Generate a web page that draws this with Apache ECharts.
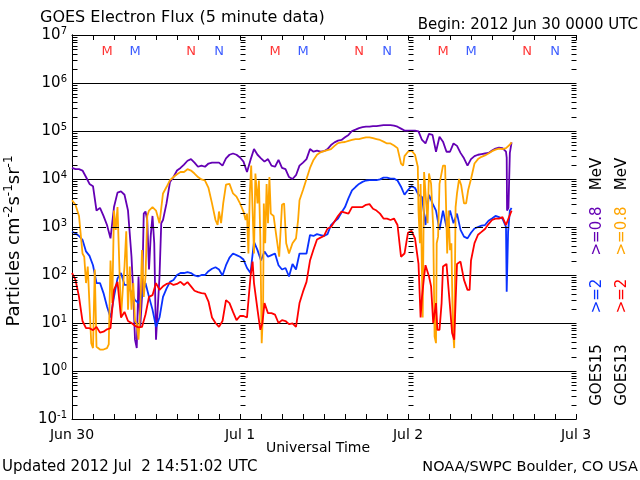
<!DOCTYPE html>
<html><head><meta charset="utf-8">
<script src="https://cdn.jsdelivr.net/npm/echarts@6/dist/echarts.min.js"></script>
<style>html,body{margin:0;padding:0;background:#fff}#c{width:640px;height:480px}</style>
</head><body><div id="c"></div>
<script>
// x in hours since 2012 Jun 30 00:00 UTC
const xTickLabels = ['Jun 30', 'Jul 1', 'Jul 2', 'Jul 3'];
const yTickExponents = [-1, 0, 1, 2, 3, 4, 5, 6, 7];

// GOES15 >=0.8 MeV
const goes15E08 = [[0,1.7e4],[0.5,1.6e4],[1,1.6e4],[1.5,1.5e4],[2,1.1e4],[2.5,7900],[3,7100],[3.5,2200],[4,2500],[4.5,1700],[5,1100],[5.5,580],[6,2600],[6.5,5200],[7,5500],[7.5,4700],[8,2200],[8.5,240],
[8.75,42],[9,4.5],[9.25,3.0],[9.5,93],[9.75,8.3],[10,35],[10.25,1900],[10.5,2100],[10.75,1400],[11,130],[11.25,660],[11.5,1700],[11.75,460],[12,4.5],[12.25,4.1],[12.5,93],[12.75,1200],[13,1400],
[13.5,3100],[14,8700],[14.5,1.1e4],[15,1.5e4],[15.5,1.7e4],[16,2.0e4],[16.5,2.4e4],[17,2.6e4],[17.5,2.2e4],[18,1.8e4],[18.5,1.9e4],[19,1.8e4],[19.5,2.1e4],[20,2.2e4],[20.5,2.2e4],[21,2.2e4],[21.5,1.9e4],[22,2.7e4],[22.5,3.2e4],[23,3.4e4],[23.5,3.2e4],[24,2.8e4],[24.5,2.3e4],[25,1.4e4],[25.5,2.5e4],[26,4.2e4],[26.5,3.2e4],[27,2.7e4],[27.5,2.3e4],[28,2.6e4],[28.5,1.9e4],[29,1.8e4],[29.5,2.5e4],[30,1.7e4],[30.5,1.6e4],[31,1.1e4],[31.5,1.0e4],[32,1.2e4],
[32.5,1.9e4],[33,2.2e4],[33.5,2.6e4],[34,4.2e4],[34.5,3.7e4],[35,3.9e4],[35.5,3.7e4],[36,3.8e4],[36.5,4.2e4],[37,5.1e4],[37.5,5.8e4],[38,6.3e4],[38.5,6.5e4],[39,7.4e4],[39.5,8.3e4],[40,1.0e5],[40.5,1.07e5],[41,1.15e5],[41.5,1.2e5],[42,1.23e5],[42.5,1.23e5],[43,1.26e5],[43.5,1.26e5],[44,1.29e5],[44.5,1.32e5],[45,1.32e5],[45.5,1.32e5],[46,1.29e5],[46.5,1.23e5],[47,1.12e5],[47.5,1.02e5],[48,1.02e5],
[48.5,1.02e5],[49,1.02e5],[49.5,9.8e4],[50,6.5e4],[50.5,5.5e4],[51,8.7e4],[51.5,8.3e4],[52,3.7e4],[52.5,7.6e4],[53,6.0e4],[53.5,3.7e4],[54,3.7e4],[54.5,5.5e4],[55,4.9e4],[55.5,3.5e4],[56,2.7e4],[56.5,1.9e4],[57,2.6e4],[57.5,3.0e4],[58,3.2e4],[58.5,3.3e4],[59,3.4e4],[59.5,3.5e4],[60,3.9e4],[60.5,4.3e4],[61,4.5e4],[61.5,4.4e4],[62,3.7e4],[62.1,2.8e4],[62.15,2200],[62.35,2500],[62.55,3.5e4],[62.8,5.8e4]];

// GOES15 >=2 MeV
const goes15E2 = [[0,790],[0.5,740],[1,650],[1.5,540],[2,310],[2.5,250],[3,160],[3.5,68],[4,68],[4.5,42],[5,22],[5.5,13],[6,35],[6.5,85],[7,110],[7.5,62],[8,62],[8.5,42],[9,30],[9.5,26],[10,35],[10.5,68],[11,35],[11.5,19],[12,8.3],[12.5,13],[13,35],[13.5,52],[14,72],[14.5,79],[15,100],[15.5,110],
[16,110],[16.5,115],[17,110],[17.5,98],[18,93],[18.5,100],[19,100],[19.5,120],[20,135],[20.5,145],[21,130],[21.5,98],[22,160],[22.5,230],[23,280],[23.5,260],[24,240],[24.5,210],[25,140],[25.5,110],[26,490],[26.5,330],[27,200],[27.5,310],[28,240],[28.5,260],[29,280],[29.5,160],[30,130],[30.5,140],[31,93],[31.5,170],[32,130],
[32.5,280],[33,280],[33.5,280],[34,680],[34.5,650],[35,710],[35.5,680],[36,650],[36.5,710],[37,1100],[37.5,1300],[38,1500],[38.5,2000],[39,2600],[39.5,4000],[40,5800],[40.5,6800],[41,7900],[41.5,8700],[42,9300],[42.5,9500],[43,9500],[43.5,9500],[44,9800],[44.5,1.07e4],[45,1.07e4],[45.5,1.02e4],[46,1.02e4],[46.5,9300],[47,6900],[47.5,4700],[48,5900],
[48.5,7100],[49,6500],[49.5,4700],[50,4200],[50.5,1100],[51,4700],[51.5,3100],[52,2200],[52.5,870],[53,2200],[53.5,1000],[54,2200],[54.5,1200],[55,1900],[55.5,870],[56,630],[56.5,580],[57,760],[57.5,930],[58,1000],[58.5,1070],[59,1100],[59.5,1350],[60,1500],[60.5,1700],[61,1600],[61.5,1500],[62,1000],[62.1,45],[62.3,790],[62.55,2200],[62.8,2500]];

// GOES13 >=0.8 MeV
const goes13E08 = [[0,3600],[0.5,2900],[1,1700],[1.5,280],[1.75,240],[2,68],[2.25,150],[2.5,150],[2.75,3.8],[3,3.0],[3.25,130],[3.5,3.2],[4,2.8],[4.5,2.8],[5,3.0],[5.25,3.6],[5.5,200],[5.75,26],[6,2200],[6.25,870],[6.5,2600],[6.75,180],[7,13],[7.25,49],[7.5,150],[7.75,810],[8,19],[8.25,150],[8.5,19],[8.75,68],[9,11],[9.25,9.8],[9.5,4.5],[9.75,19],[10,330],[10.25,35],[10.5,93],[10.75,1700],[11,2200],[11.5,2600],[12,2200],[12.5,1200],[13,5000],[13.5,6800],[14,9500],[14.5,1.1e4],[15,1.26e4],[15.5,1.4e4],[16,1.4e4],
[16.5,1.6e4],[17,1.5e4],[17.5,1.3e4],[18,1.1e4],[18.5,9800],[19,9300],[19.5,6500],[20,3100],[20.5,1400],[20.8,1100],[21,2100],[21.3,1200],[21.6,3100],[22,7600],[22.5,7900],[23,5000],[23.5,4300],[24,3100],[24.5,2100],[24.8,1400],[25,1900],[25.2,280],[25.4,5000],[25.6,1.9e4],[25.8,2200],[26,280],[26.2,1.3e4],[26.5,3100],[26.7,9300],[26.9,630],[27.1,3.8],[27.3,19],[27.4,3100],[27.6,460],[27.8,7900],[28,1200],[28.2,1.1e4],[28.4,1900],[28.8,1700],[29.2,630],[29.6,240],[30,2900],[30.3,3100],[30.6,460],[31,280],[31.5,460],[32,580],
[32.3,1400],[32.5,3600],[33,5900],[33.5,1.0e4],[34,1.7e4],[34.5,2.5e4],[35,3.2e4],[35.5,3.6e4],[36,3.8e4],[36.5,4.0e4],[37,4.2e4],[37.5,4.9e4],[38,5.6e4],[38.5,5.8e4],[39,5.9e4],[39.5,6.2e4],[40,6.5e4],[40.5,6.8e4],[41,6.8e4],[41.5,7.1e4],[42,7.4e4],[42.5,7.4e4],[43,7.1e4],[43.5,6.8e4],[44,6.5e4],[44.5,6.0e4],[45,5.5e4],[45.5,5.5e4],[46,5.0e4],[46.5,4.4e4],[47,2.1e4],[47.3,1.9e4],[47.5,3.0e4],[48,3.7e4],
[48.5,3.9e4],[49,3.2e4],[49.4,1.8e4],[49.5,2200],[49.7,460],[49.8,7900],[50,93],[50.1,13],[50.3,1.4e4],[50.6,3100],[50.8,1200],[51,1.3e4],[51.3,7900],[51.6,1000],[51.8,5.2],[52,3.8],[52.1,460],[52.3,630],[52.5,7900],[53,1.9e4],[53.3,1.9e4],[53.6,280],[53.8,2200],[54,330],[54.2,460],[54.4,8.3],[54.6,3.0],[54.8,2600],[55,5000],[55.3,1.0e4],[55.6,7400],[56,3100],[56.3,3100],[56.6,5900],[57,1.0e4],[57.5,2.1e4],[58,2.6e4],[58.5,2.9e4],[59,3.1e4],[59.5,3.4e4],[60,3.8e4],[60.5,4.1e4],[61,4.3e4],[61.5,4.2e4],[62,4.4e4],[62.5,5.1e4],[62.8,5.8e4]];

// GOES13 >=2 MeV
const goes13E2 = [[0,110],[0.5,79],[1,35],[1.5,11],[2,7.8],[2.5,7.8],[3,7.1],[3.5,8.3],[4,6.3],[4.5,6.6],[5,7.4],[5.5,7.8],[6,49],[6.5,72],[7,13],[7.5,17],[8,11],[8.5,10],[9,8.7],[9.5,8.1],[10,8.3],[10.5,15],[11,35],[11.5,38],[12,68],[12.5,49],[13,58],[13.5,65],[14,68],[14.5,62],[15,65],[15.5,72],[16,62],
[16.5,71],[17,58],[17.5,47],[18,44],[18.5,42],[19,41],[19.5,28],[20,13],[20.5,10],[21,8.3],[21.5,11],[22,30],[22.5,26],[23,17],[23.5,11.5],[24,14],[24.5,14],[25,13],[25.5,93],[25.8,190],[26,68],[26.5,19],[26.9,7.2],[27.2,10],[27.5,26],[28,16],[28.5,16],[29,15],[29.5,10],[30,11.5],[30.5,11],[31,9.5],[31.5,9.8],[32,8.3],
[32.5,26],[33,45],[33.5,72],[34,200],[34.5,340],[35,550],[35.5,600],[36,650],[36.5,930],[37,1000],[37.5,1300],[38,1700],[38.5,2100],[39,2000],[39.5,1900],[40,2600],[40.5,2600],[41,2600],[41.5,2600],[42,2900],[42.5,3000],[43,2400],[43.5,2200],[44,1900],[44.5,1500],[45,1500],[45.5,1400],[46,1500],[46.5,1100],[47,240],[47.5,280],[48,760],
[48.5,830],[49,580],[49.5,170],[49.8,13],[50,35],[50.3,93],[50.5,160],[51,93],[51.3,58],[51.6,10],[52,26],[52.2,7.2],[52.5,7.2],[52.8,26],[53,150],[53.5,170],[54,22],[54.3,6.2],[54.6,4.5],[55,170],[55.5,190],[56,79],[56.5,49],[56.8,49],[57,200],[57.5,460],[58,690],[58.5,790],[59,910],[59.5,1150],[60,1400],[60.5,1500],[61,1500],[61.5,1600],[62,1100],[62.2,1200],[62.5,1700],[62.8,2200]];

// local midnight (M) / noon (N) of each satellite, hours
const goes13MidnightHours = [5, 29, 53];
const goes15MidnightHours = [9, 33, 57];
const goes13NoonHours = [17, 41, 65];
const goes15NoonHours = [21, 45, 69];

const FONT = 'DejaVu Sans';
const C_PURPLE = '#6400b4', C_ORANGE = '#ffa500', C_BLUE = '#0a32ff', C_RED = '#ff0000';
const MARKER_LEVEL = 4.6e6; // vertical placement of the M/N annotations
const TICK_LEN = 5;

// log-axis tick values (decades + 2..9 minor), drawn at the frame edges and day boundaries
const logTickValues = [];
yTickExponents.forEach((e, i) => {
  logTickValues.push(Math.pow(10, e));
  if (i < yTickExponents.length - 1) {
    for (let k = 2; k <= 9; k++) logTickValues.push(k * Math.pow(10, e));
  }
});
const dayBoundaryHours = xTickLabels.map((_, i) => i * 24);
const lastHour = dayBoundaryHours[dayBoundaryHours.length - 1];

const yMin = Math.pow(10, yTickExponents[0]);
const yMax = Math.pow(10, yTickExponents[yTickExponents.length - 1]);

const splitColors = yTickExponents.map(e => (e === 3 ? 'rgba(0,0,0,0)' : '#000'));

function xAxisCfg(pos, labels) {
  return {
    type: 'value', position: pos, min: 0, max: lastHour, interval: 24,
    axisLine: { show: true, onZero: false, lineStyle: { color: '#000', width: 1 } },
    axisTick: { show: true, inside: true, length: TICK_LEN, lineStyle: { color: '#000' } },
    minorTick: { show: true, splitNumber: 8, length: TICK_LEN, lineStyle: { color: '#000' } },
    splitLine: { show: false },
    axisLabel: labels ? {
      show: true, margin: 9, color: '#000', fontFamily: FONT, fontSize: 14,
      showMinLabel: true, showMaxLabel: true,
      formatter: v => xTickLabels[Math.round(v / 24)]
    } : { show: false }
  };
}

function markerSeries(hours, letter, color) {
  return {
    type: 'scatter', xAxisIndex: 0, yAxisIndex: 0, symbolSize: 1, silent: true,
    itemStyle: { color: 'rgba(0,0,0,0)' },
    label: { show: true, position: 'inside', formatter: letter, color: color, fontFamily: FONT, fontSize: 13 },
    data: hours.map(h => [h, MARKER_LEVEL]), z: 5
  };
}

function lineSeries(name, data, color, z) {
  return {
    name, type: 'line', data, xAxisIndex: 0, yAxisIndex: 0,
    showSymbol: false, symbol: 'none', smooth: false, z,
    lineStyle: { color, width: 1.8 }, animation: false
  };
}

const logTickSeries = {
  type: 'custom', xAxisIndex: 0, yAxisIndex: 0, silent: true, z: 6, clip: false,
  data: logTickValues.map(v => [0, v]),
  renderItem: (params, api) => {
    const v = api.value(1);
    const children = dayBoundaryHours.map(h => {
      const p = api.coord([h, v]);
      const y = Math.round(p[1]) + 0.5;
      const x0 = Math.round(p[0]) + 0.5;
      const x1 = h === lastHour ? x0 - TICK_LEN : x0 + TICK_LEN;
      return { type: 'line', shape: { x1: x0, y1: y, x2: x1, y2: y }, style: { stroke: '#000', lineWidth: 1 } };
    });
    return { type: 'group', children };
  }
};

const chart = echarts.init(document.getElementById('c'), null, { renderer: 'canvas' });
chart.setOption({
  animation: false,
  backgroundColor: '#fff',
  grid: { left: 72, right: 64, top: 35, bottom: 61, containLabel: false },
  xAxis: [xAxisCfg('bottom', true), xAxisCfg('top', false)],
  yAxis: [
    {
      type: 'log', logBase: 10, min: yMin, max: yMax, position: 'left',
      axisLine: { show: true, lineStyle: { color: '#000', width: 1 } },
      axisTick: { show: false },
      splitLine: { show: true, lineStyle: { color: splitColors, width: 1 } },
      axisLabel: {
        show: true, margin: 5, color: '#000',
        formatter: v => {
          const e = Math.round(Math.log10(v));
          return '{b|10}{s|' + (e < 0 ? '-' + (-e) : e) + '}';
        },
        rich: {
          b: { fontFamily: FONT, fontSize: 15, lineHeight: 18, color: '#000' },
          s: { fontFamily: FONT, fontSize: 10, lineHeight: 18, verticalAlign: 'top', color: '#000' }
        }
      }
    },
    {
      type: 'log', logBase: 10, min: yMin, max: yMax, position: 'right',
      axisLine: { show: true, lineStyle: { color: '#000', width: 1 } },
      axisTick: { show: false }, axisLabel: { show: false }, splitLine: { show: false }
    }
  ],
  series: [
    Object.assign(lineSeries('GOES15 >=0.8 MeV', goes15E08, C_PURPLE, 2), {
      markLine: {
        silent: true, symbol: 'none', animation: false,
        label: { show: false },
        lineStyle: { color: '#000', width: 1, type: [8, 5] },
        data: [{ yAxis: 1000 }]
      }
    }),
    lineSeries('GOES15 >=2 MeV', goes15E2, C_BLUE, 3),
    lineSeries('GOES13 >=0.8 MeV', goes13E08, C_ORANGE, 4),
    lineSeries('GOES13 >=2 MeV', goes13E2, C_RED, 5),
    markerSeries(goes13MidnightHours, 'M', C_RED),
    markerSeries(goes15MidnightHours, 'M', C_BLUE),
    markerSeries(goes13NoonHours, 'N', C_RED),
    markerSeries(goes15NoonHours, 'N', C_BLUE),
    logTickSeries
  ],
  graphic: [
    { type: 'text', x: 40, y: 18, style: { text: 'GOES Electron Flux (5 minute data)', font: '16px "DejaVu Sans"', fill: '#000', verticalAlign: 'middle', textVerticalAlign: 'middle' } },
    { type: 'text', x: 638, y: 25, style: { text: 'Begin: 2012 Jun 30 0000 UTC', font: '15px "DejaVu Sans"', fill: '#000', align: 'right', textAlign: 'right', verticalAlign: 'middle', textVerticalAlign: 'middle' } },
    { type: 'text', x: 318, y: 448, style: { text: 'Universal Time', font: '14px "DejaVu Sans"', fill: '#000', align: 'center', textAlign: 'center', verticalAlign: 'middle', textVerticalAlign: 'middle' } },
    { type: 'text', x: 2, y: 467, style: { text: 'Updated 2012 Jul  2 14:51:02 UTC', font: '15px "DejaVu Sans"', fill: '#000', verticalAlign: 'middle', textVerticalAlign: 'middle' } },
    { type: 'text', x: 638, y: 467, style: { text: 'NOAA/SWPC Boulder, CO USA', font: '14.5px "DejaVu Sans"', fill: '#000', align: 'right', textAlign: 'right', verticalAlign: 'middle', textVerticalAlign: 'middle' } },
    { type: 'text', x: 14, y: 241, rotation: Math.PI / 2, style: {
        text: '{a|Particles cm}{s|-2}{a|s}{s|-1}{a|sr}{s|-1}',
        align: 'center', textAlign: 'center', verticalAlign: 'middle', textVerticalAlign: 'middle',
        rich: {
          a: { fontFamily: FONT, fontSize: 18, lineHeight: 22, fill: '#000', color: '#000' },
          s: { fontFamily: FONT, fontSize: 12, lineHeight: 22, verticalAlign: 'top', fill: '#000', color: '#000' }
        } } },
    { type: 'text', x: 597, y: 375, rotation: Math.PI / 2, style: { text: 'GOES15', font: '15px "DejaVu Sans"', fill: '#000', align: 'center', textAlign: 'center', verticalAlign: 'middle', textVerticalAlign: 'middle' } },
    { type: 'text', x: 597, y: 296, rotation: Math.PI / 2, style: { text: '>=2', font: '15px "DejaVu Sans"', fill: C_BLUE, align: 'center', textAlign: 'center', verticalAlign: 'middle', textVerticalAlign: 'middle' } },
    { type: 'text', x: 597, y: 231, rotation: Math.PI / 2, style: { text: '>=0.8', font: '15px "DejaVu Sans"', fill: C_PURPLE, align: 'center', textAlign: 'center', verticalAlign: 'middle', textVerticalAlign: 'middle' } },
    { type: 'text', x: 597, y: 174, rotation: Math.PI / 2, style: { text: 'MeV', font: '15px "DejaVu Sans"', fill: '#000', align: 'center', textAlign: 'center', verticalAlign: 'middle', textVerticalAlign: 'middle' } },
    { type: 'text', x: 622, y: 375, rotation: Math.PI / 2, style: { text: 'GOES13', font: '15px "DejaVu Sans"', fill: '#000', align: 'center', textAlign: 'center', verticalAlign: 'middle', textVerticalAlign: 'middle' } },
    { type: 'text', x: 622, y: 296, rotation: Math.PI / 2, style: { text: '>=2', font: '15px "DejaVu Sans"', fill: C_RED, align: 'center', textAlign: 'center', verticalAlign: 'middle', textVerticalAlign: 'middle' } },
    { type: 'text', x: 622, y: 231, rotation: Math.PI / 2, style: { text: '>=0.8', font: '15px "DejaVu Sans"', fill: C_ORANGE, align: 'center', textAlign: 'center', verticalAlign: 'middle', textVerticalAlign: 'middle' } },
    { type: 'text', x: 622, y: 174, rotation: Math.PI / 2, style: { text: 'MeV', font: '15px "DejaVu Sans"', fill: '#000', align: 'center', textAlign: 'center', verticalAlign: 'middle', textVerticalAlign: 'middle' } }
  ]
});
</script>
</body></html>
